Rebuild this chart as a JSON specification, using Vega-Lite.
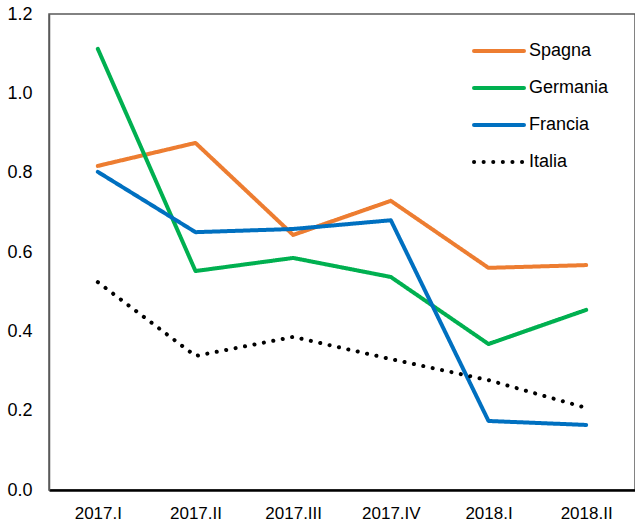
{
  "$schema": "https://vega.github.io/schema/vega-lite/v6.json",
  "width": 586,
  "height": 476,
  "autosize": "none",
  "padding": {"left": 49, "top": 14, "right": 0, "bottom": 32},
  "background": "white",
  "config": {
    "font": "Liberation Sans",
    "view": {"stroke": "#595959", "strokeWidth": 1.5}
  },
  "data": {
    "values": [
      {"periodo": "2017.I", "paese": "Spagna", "valore": 0.817},
      {"periodo": "2017.II", "paese": "Spagna", "valore": 0.875},
      {"periodo": "2017.III", "paese": "Spagna", "valore": 0.643},
      {"periodo": "2017.IV", "paese": "Spagna", "valore": 0.729},
      {"periodo": "2018.I", "paese": "Spagna", "valore": 0.56},
      {"periodo": "2018.II", "paese": "Spagna", "valore": 0.567},
      {"periodo": "2017.I", "paese": "Germania", "valore": 1.112},
      {"periodo": "2017.II", "paese": "Germania", "valore": 0.552},
      {"periodo": "2017.III", "paese": "Germania", "valore": 0.585},
      {"periodo": "2017.IV", "paese": "Germania", "valore": 0.537},
      {"periodo": "2018.I", "paese": "Germania", "valore": 0.368},
      {"periodo": "2018.II", "paese": "Germania", "valore": 0.454},
      {"periodo": "2017.I", "paese": "Francia", "valore": 0.802},
      {"periodo": "2017.II", "paese": "Francia", "valore": 0.65},
      {"periodo": "2017.III", "paese": "Francia", "valore": 0.658},
      {"periodo": "2017.IV", "paese": "Francia", "valore": 0.68},
      {"periodo": "2018.I", "paese": "Francia", "valore": 0.174},
      {"periodo": "2018.II", "paese": "Francia", "valore": 0.164},
      {"periodo": "2017.I", "paese": "Italia", "valore": 0.524},
      {"periodo": "2017.II", "paese": "Italia", "valore": 0.338},
      {"periodo": "2017.III", "paese": "Italia", "valore": 0.386},
      {"periodo": "2017.IV", "paese": "Italia", "valore": 0.33},
      {"periodo": "2018.I", "paese": "Italia", "valore": 0.277},
      {"periodo": "2018.II", "paese": "Italia", "valore": 0.207}
    ]
  },
  "mark": {"type": "line", "strokeWidth": 4, "strokeCap": "round", "strokeJoin": "round"},
  "encoding": {
    "x": {
      "field": "periodo", "type": "ordinal", "sort": null,
      "scale": {"type": "point", "padding": 0.5},
      "axis": {
        "title": null, "labelAngle": 0, "ticks": false, "labelFontSize": 17,
        "labelColor": "#000000", "labelPadding": 15, "domainColor": "#000000",
        "domainWidth": 2.5, "grid": false
      }
    },
    "y": {
      "field": "valore", "type": "quantitative",
      "scale": {"domain": [0, 1.2], "nice": false},
      "axis": {
        "title": null, "values": [0, 0.2, 0.4, 0.6, 0.8, 1.0, 1.2], "format": ".1f",
        "ticks": false, "labelFontSize": 18, "labelColor": "#000000", "labelPadding": 17,
        "domainColor": "#595959", "domainWidth": 1.5, "grid": false
      }
    },
    "color": {
      "field": "paese", "type": "nominal",
      "scale": {"domain": ["Spagna", "Germania", "Francia", "Italia"], "range": ["#ED7D31", "#00B050", "#0070C0", "#000000"]},
      "legend": {
        "title": null, "orient": "none", "legendX": 423, "legendY": 10,
        "symbolType": "stroke", "symbolSize": 2500, "symbolStrokeWidth": 4,
        "labelFontSize": 18, "labelColor": "#000000", "labelOffset": 3, "rowPadding": 1,
        "encode": {"symbols": {"update": {"strokeCap": {"value": "round"}}}}
      }
    },
    "strokeDash": {
      "field": "paese", "type": "nominal",
      "scale": {"domain": ["Spagna", "Germania", "Francia", "Italia"], "range": [[1, 0], [1, 0], [1, 0], [0.1, 9.5]]},
      "legend": {
        "title": null, "orient": "none", "legendX": 423, "legendY": 10,
        "symbolType": "stroke", "symbolSize": 2500, "symbolStrokeWidth": 4,
        "labelFontSize": 18, "labelColor": "#000000", "labelOffset": 3, "rowPadding": 1,
        "encode": {"symbols": {"update": {"strokeCap": {"value": "round"}}}}
      }
    }
  }
}
